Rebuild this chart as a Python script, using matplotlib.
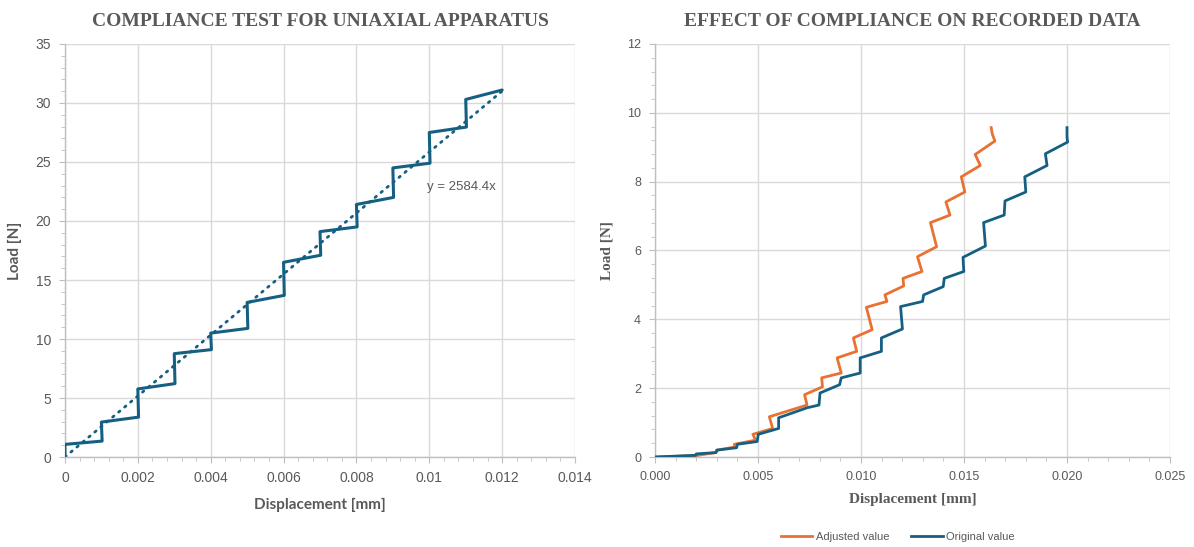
import numpy as np
import matplotlib
matplotlib.use("Agg")
import matplotlib.pyplot as plt
from matplotlib.ticker import MultipleLocator, FormatStrFormatter

# ---- data ----
# left: compliance test (step loading)
disp_step = [0, 0, 0.00102, 0.00100, 0.00202, 0.00200, 0.00302, 0.00300, 0.00402, 0.00400,
             0.00502, 0.00500, 0.00602, 0.00600, 0.00702, 0.00700, 0.00802, 0.00800,
             0.00902, 0.00900, 0.01002, 0.01000, 0.01102, 0.01100, 0.01200]
load_step = [0, 1.07, 1.35, 2.96, 3.38, 5.77, 6.22, 8.76, 9.10, 10.5,
             10.9, 13.1, 13.7, 16.5, 17.1, 19.1, 19.5, 21.4,
             22.0, 24.5, 24.9, 27.5, 27.96, 30.3, 31.1]
trend_slope = 2584.4
trend_x = [0, 0.012]

# right: adjusted vs original
disp_adj = [0, 0.00197, 0.00296, 0.00300, 0.00388, 0.00385, 0.00488, 0.00475, 0.00571, 0.00555,
            0.00738, 0.00726, 0.00813, 0.00809, 0.00904, 0.00884, 0.00979, 0.00963, 0.01054,
            0.01026, 0.01126, 0.01116, 0.01207, 0.01204, 0.01296, 0.01274, 0.01367, 0.01337,
            0.01432, 0.01412, 0.01504, 0.01487, 0.01579, 0.01554, 0.01650, 0.01637, 0.01632]
load_adj = [0, 0.04, 0.13, 0.20, 0.29, 0.37, 0.49, 0.66, 0.83, 1.17,
            1.51, 1.81, 2.04, 2.30, 2.44, 2.88, 3.07, 3.46, 3.70,
            4.35, 4.52, 4.71, 4.97, 5.19, 5.39, 5.82, 6.11, 6.81,
            7.03, 7.41, 7.70, 8.14, 8.47, 8.79, 9.18, 9.39, 9.57]

disp_orig = [0, 0.00197, 0.00200, 0.00296, 0.00300, 0.00396, 0.00400, 0.00496, 0.00501, 0.00600,
             0.00600, 0.00738, 0.00796, 0.00801, 0.00896, 0.00904, 0.00996, 0.00996, 0.01099,
             0.01099, 0.01201, 0.01192, 0.01299, 0.01304, 0.01399, 0.01404, 0.01499, 0.01495,
             0.01604, 0.01595, 0.01695, 0.01699, 0.01800, 0.01795, 0.01903, 0.01895, 0.02003,
             0.02000, 0.02000]
load_orig = [0, 0.05, 0.09, 0.13, 0.20, 0.27, 0.37, 0.45, 0.66, 0.83,
             1.14, 1.43, 1.51, 1.86, 2.10, 2.30, 2.44, 2.88, 3.07,
             3.46, 3.72, 4.37, 4.52, 4.71, 4.95, 5.19, 5.39, 5.80,
             6.13, 6.81, 7.03, 7.44, 7.70, 8.14, 8.47, 8.81, 9.15,
             9.30, 9.57]

blue = "#156082"
orange = "#E97132"
txt = "#595959"
grid_c = "#D9D9D9"
axis_c = "#BFBFBF"

fig = plt.figure(figsize=(11.94, 5.47), dpi=100)
ax1 = fig.add_axes([0.0544, 0.1645, 0.4272, 0.7551])
ax2 = fig.add_axes([0.5486, 0.1645, 0.4313, 0.7551])


def style(ax, tickfont, ticksize):
    for s in ["top", "right"]:
        ax.spines[s].set_visible(False)
    for s in ["left", "bottom"]:
        ax.spines[s].set_color(axis_c)
        ax.spines[s].set_linewidth(1.0)
    ax.grid(True, which="major", color=grid_c, linewidth=1.0)
    ax.set_axisbelow(True)
    ax.tick_params(which="major", length=4, color=axis_c, labelcolor=txt,
                   labelsize=ticksize, pad=6)
    ax.tick_params(which="minor", length=3, color=axis_c)
    for lab in ax.get_xticklabels() + ax.get_yticklabels():
        lab.set_family(tickfont)


# left chart
ax1.plot(disp_step, load_step, color=blue, lw=2.2, solid_joinstyle="round",
         solid_capstyle="round", zorder=3)
tx = np.array(trend_x)
ax1.plot(tx, trend_slope * tx, color=blue, lw=2.0, linestyle=(0, (0.6, 2.2)),
         dash_capstyle="round", zorder=2)
ax1.text(0.00995, 22.9, "y = 2584.4x", color=txt, fontsize=9.5,
         family="Liberation Sans", va="center", ha="left")
ax1.set_xlim(0, 0.014)
ax1.set_ylim(0, 35)
ax1.xaxis.set_major_locator(MultipleLocator(0.002))
ax1.xaxis.set_minor_locator(MultipleLocator(0.0004))
ax1.yaxis.set_major_locator(MultipleLocator(5))
ax1.yaxis.set_minor_locator(MultipleLocator(1))
ax1.set_xticks(np.arange(0, 0.0141, 0.002))
ax1.set_xticklabels(["0", "0.002", "0.004", "0.006", "0.008", "0.01", "0.012", "0.014"])
style(ax1, "Liberation Sans", 10)
ax1.set_xlabel("Displacement [mm]", color=txt, fontsize=11, fontweight="bold",
               family="Lato", labelpad=9)
ax1.set_ylabel("Load [N]", color=txt, fontsize=11, fontweight="bold",
               family="Lato", labelpad=10)
ax1.set_title("COMPLIANCE TEST FOR UNIAXIAL APPARATUS", color=txt, fontsize=14,
              fontweight="bold", family="Liberation Serif", pad=13)

# right chart
ax2.plot(disp_adj, load_adj, color=orange, lw=2.0, solid_joinstyle="round",
         label="Adjusted value", zorder=3)
ax2.plot(disp_orig, load_orig, color=blue, lw=2.0, solid_joinstyle="round",
         label="Original value", zorder=3)
ax2.set_xlim(0, 0.025)
ax2.set_ylim(0, 12)
ax2.xaxis.set_major_locator(MultipleLocator(0.005))
ax2.xaxis.set_minor_locator(MultipleLocator(0.001))
ax2.yaxis.set_major_locator(MultipleLocator(2))
ax2.yaxis.set_minor_locator(MultipleLocator(0.4))
ax2.xaxis.set_major_formatter(FormatStrFormatter("%.3f"))
style(ax2, "Liberation Sans", 9)
ax2.set_xlabel("Displacement [mm]", color=txt, fontsize=11, fontweight="bold",
               family="Liberation Serif", labelpad=7)
ax2.set_ylabel("Load [N]", color=txt, fontsize=11, fontweight="bold",
               family="Liberation Serif", labelpad=10)
ax2.set_title("EFFECT OF COMPLIANCE ON RECORDED DATA", color=txt, fontsize=14,
              fontweight="bold", family="Liberation Serif", pad=13)

leg = fig.legend(loc="center", bbox_to_anchor=(0.752, 0.018), ncol=2, frameon=False,
                 prop={"family": "Liberation Sans", "size": 8}, handlelength=2.8,
                 columnspacing=2.0, handletextpad=0.3)
for t in leg.get_texts():
    t.set_color(txt)

fig.savefig("out.png", dpi=100)
